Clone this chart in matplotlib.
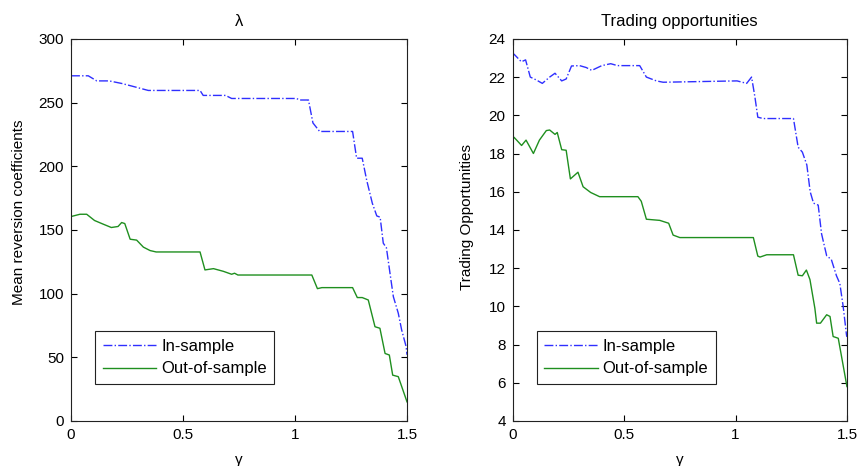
import numpy as np
import matplotlib
matplotlib.use("Agg")
import matplotlib.pyplot as plt

plt.rcParams['font.family'] = ['Liberation Sans', 'DejaVu Sans']

# Left panel: mean reversion coefficients (lambda) vs gamma
lam_in_x = [0, 0.077, 0.115, 0.17, 0.226, 0.27, 0.345, 0.576, 0.59, 0.69, 0.717, 1.007,
            1.02, 1.06, 1.08, 1.11, 1.257, 1.275, 1.30, 1.32, 1.345, 1.365, 1.38,
            1.394, 1.408, 1.424, 1.439, 1.461, 1.476, 1.496, 1.5]
lam_in_y = [271, 271, 267, 267, 265, 263, 259.5, 259.5, 255.6, 255.6, 253.2, 253.2,
            252, 252, 234, 227.3, 227.3, 206.3, 206.3, 189, 171, 161, 160,
            139.6, 136, 116, 97.6, 84.6, 71.5, 58.4, 52]

lam_out_x = [0, 0.04, 0.07, 0.105, 0.14, 0.18, 0.21, 0.226, 0.24, 0.264, 0.293, 0.323,
             0.353, 0.38, 0.576, 0.598, 0.636, 0.68, 0.717, 0.73, 0.745, 1.075, 1.1,
             1.12, 1.257, 1.278, 1.30, 1.327, 1.357, 1.379, 1.402, 1.421, 1.436, 1.461,
             1.5]
lam_out_y = [160.5, 162.3, 162.3, 157.4, 154.8, 151.9, 152.7, 155.8, 155, 142.7, 142, 136.5,
             133.8, 132.7, 132.7, 118.6, 119.6, 117.5, 115.2, 116, 114.6, 114.6, 103.9,
             104.7, 104.7, 96.9, 96.9, 95, 74, 72.8, 53, 51.8, 36, 34.8,
             15]

# Right panel: trading opportunities vs gamma
tr_in_x = [0, 0.006, 0.039, 0.058, 0.079, 0.106, 0.133, 0.166, 0.19, 0.22, 0.24, 0.264,
           0.3, 0.33, 0.355, 0.4, 0.44, 0.47, 0.57, 0.6, 0.645, 0.675, 1.007, 1.05,
           1.072, 1.087, 1.1, 1.124, 1.26, 1.281, 1.3, 1.32, 1.335, 1.35, 1.371, 1.386,
           1.409, 1.43, 1.453, 1.468, 1.483, 1.498, 1.5]
tr_in_y = [23.07, 23.2, 22.8, 22.9, 22.0, 21.85, 21.67, 22.0, 22.2, 21.8, 21.9, 22.58,
           22.6, 22.5, 22.35, 22.6, 22.7, 22.6, 22.6, 22.0, 21.8, 21.73, 21.8, 21.67,
           22.0, 20.96, 19.9, 19.83, 19.83, 18.33, 18.07, 17.4, 16.0, 15.4, 15.3, 13.8,
           12.65, 12.45, 11.6, 11.2, 10.0, 8.5, 8.4]

tr_out_x = [0, 0.006, 0.04, 0.06, 0.093, 0.12, 0.151, 0.166, 0.19, 0.2, 0.22, 0.24,
            0.259, 0.293, 0.316, 0.35, 0.39, 0.562, 0.577, 0.6, 0.66, 0.7, 0.72, 0.75,
            1.08, 1.1, 1.11, 1.14, 1.26, 1.281, 1.30, 1.318, 1.334, 1.356, 1.364, 1.381,
            1.409, 1.424, 1.438, 1.461, 1.48, 1.5]
tr_out_y = [18.68, 18.85, 18.42, 18.7, 18.0, 18.7, 19.2, 19.23, 19.0, 19.1, 18.2, 18.17,
            16.67, 17.02, 16.26, 15.96, 15.74, 15.74, 15.5, 14.56, 14.5, 14.35, 13.73, 13.6,
            13.6, 12.63, 12.58, 12.7, 12.7, 11.63, 11.6, 11.9, 11.4, 9.9, 9.12, 9.12,
            9.56, 9.47, 8.42, 8.33, 7.1, 5.8]

fig = plt.figure(figsize=(8.66, 4.66), dpi=100)
ax1 = fig.add_axes([0.082, 0.0966, 0.388, 0.82])
ax2 = fig.add_axes([0.592, 0.0966, 0.386, 0.82])

blue = '#2f2fff'
green = '#1f8f1f'

ax1.plot(lam_in_x, lam_in_y, color=blue, linestyle='-.', lw=1.0, label='In-sample')
ax1.plot(lam_out_x, lam_out_y, color=green, linestyle='-', lw=1.0, label='Out-of-sample')
ax1.set_xlim(0, 1.5)
ax1.set_ylim(0, 300)
ax1.set_xticks([0, 0.5, 1, 1.5])
ax1.set_xticklabels(['0', '0.5', '1', '1.5'])
ax1.set_yticks(range(0, 301, 50))
ax1.set_xlabel('γ', fontsize=11, labelpad=8)
ax1.set_ylabel('Mean reversion coefficients', fontsize=11)
ax1.yaxis.set_label_coords(-0.133, 0.545)
ax1.set_title('λ', fontsize=12, pad=9)

ax2.plot(tr_in_x, tr_in_y, color=blue, linestyle='-.', lw=1.0, label='In-sample')
ax2.plot(tr_out_x, tr_out_y, color=green, linestyle='-', lw=1.0, label='Out-of-sample')
ax2.set_xlim(0, 1.5)
ax2.set_ylim(4, 24)
ax2.set_xticks([0, 0.5, 1, 1.5])
ax2.set_xticklabels(['0', '0.5', '1', '1.5'])
ax2.set_yticks(range(4, 25, 2))
ax2.set_xlabel('γ', fontsize=11, labelpad=8)
ax2.set_ylabel('Trading Opportunities', fontsize=11)
ax2.yaxis.set_label_coords(-0.115, 0.535)
ax2.set_title('Trading opportunities', fontsize=12, pad=9)

for ax in (ax1, ax2):
    ax.tick_params(direction='in', top=True, right=True, labelsize=11, length=4, pad=5)
    for s in ax.spines.values():
        s.set_color('#222222')
        s.set_linewidth(0.8)
    leg = ax.legend(loc='lower left', bbox_to_anchor=(0.072, 0.097), borderaxespad=0,
                    fontsize=12, fancybox=False, edgecolor='#222222', framealpha=1,
                    handlelength=3.2, borderpad=0.45, labelspacing=0.45, handletextpad=0.3)
    leg.get_frame().set_linewidth(0.8)

fig.savefig('out.png', dpi=100)
